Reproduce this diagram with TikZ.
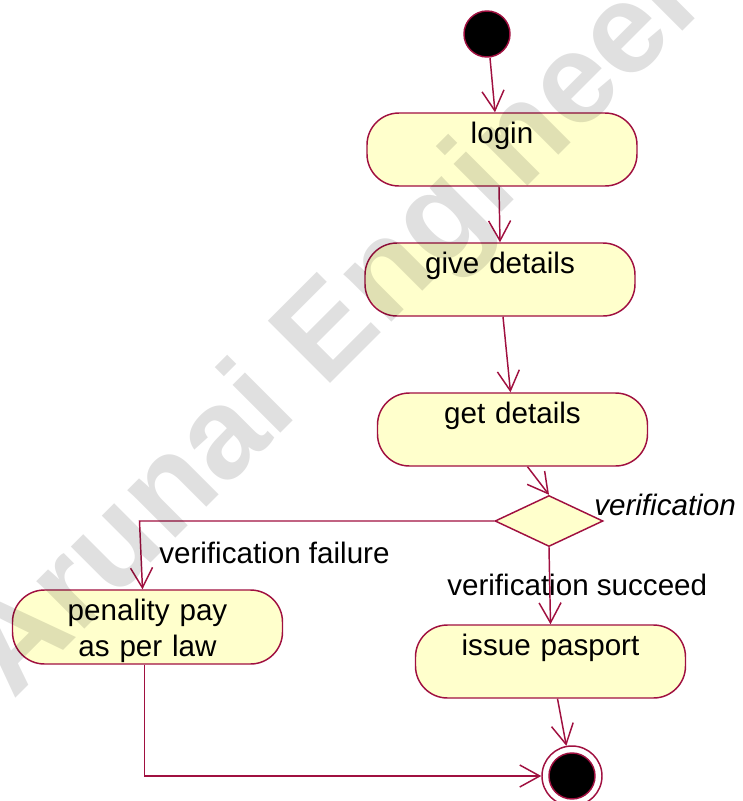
\documentclass[tikz,border=0pt]{standalone}
\usepackage{fontspec}
\setmainfont{Liberation Sans}
\usetikzlibrary{arrows.meta,shapes.geometric,calc}
\definecolor{rose}{RGB}{160,16,64}
\definecolor{actfill}{RGB}{255,255,204}
\begin{document}
\begin{tikzpicture}[x=0.75pt,y=-0.75pt,
  every node/.style={font=\fontsize{22.2pt}{27pt}\selectfont},
  act/.style={draw=rose, fill=actfill, line width=1.1pt, rounded corners=24pt,
    inner sep=0pt, text width=202.5pt, align=center,
    text height=22.5pt, text depth=32.25pt},
  flow/.style={draw=rose, line width=1.1pt,
    -{Straight Barb[length=15pt,width=16.5pt]}},
  line/.style={draw=rose, line width=1.1pt},
  guard/.style={anchor=base west, inner sep=0pt}
]
\useasboundingbox (0,0) rectangle (743,801);
\clip (0,0) rectangle (743,801);
\fill[white] (0,0) rectangle (743,801);

% initial and final states
\node[circle, fill=black, draw=rose, line width=1.1pt, minimum size=34.5pt, inner sep=0pt] (start) at (487,34) {};
\node[circle, fill=white, draw=rose, line width=1.1pt, minimum size=45pt, inner sep=0pt] (end) at (572,776) {};
\node[circle, fill=black, draw=rose, line width=1.1pt, minimum size=34.5pt, inner sep=0pt] (endcore) at (end) {};

% activities
\node[act] (login) at (502,149.5) {login};
\node[act] (give) at (500,279.5) {give details};
\node[act] (get) at (512.5,429.5) {get details};
\node[act] (issue) at (550.5,661.5) {issue pasport};
\node[act, text depth=33pt] (penalty) at (147.5,627) {penality pay\\as per law};

% decision
\node[diamond, draw=rose, fill=actfill, line width=1.1pt, minimum width=81pt, minimum height=38.25pt, inner sep=0pt] (dec) at (549,521) {};

% guards
\node[guard, font=\fontsize{22.2pt}{27pt}\selectfont\itshape] (lblver) at (594,515) {verification};
\node[guard] (lblfail) at (159,563) {verification failure};
\node[guard] (lblok) at (447,595) {verification succeed};

% transitions
\draw[flow] ($(start.south)+(3,0)$) -- ($(login.north)+(-7,0)$);
\draw[flow] ($(login.south)+(-3,0)$) -- (give.north);
\draw[flow] ($(give.south)+(3,0)$) -- ($(get.north)+(-2,0)$);
\draw[flow] ($(get.south)+(15,0)$) -- (dec.north);
\draw[flow] (dec.south) -- (issue.north);
\draw[flow] (dec.west) -- ($(penalty.north |- dec.west)+(-8,0)$) -- ($(penalty.north)+(-5,0)$);
\draw[flow] ($(issue.south)+(7,0)$) -- (end);
\draw[flow] ($(penalty.south)+(-3,0)$) -- ($(penalty.south |- end.west)+(-3,0)$) -- (end.west);

% watermark
\node[rotate=45, anchor=base west, inner sep=0pt, text=black, text opacity=0.12,
  font=\fontsize{96pt}{100pt}\selectfont\bfseries] (mark) at (13,701) {Arunai Engineering};
\end{tikzpicture}
\end{document}
